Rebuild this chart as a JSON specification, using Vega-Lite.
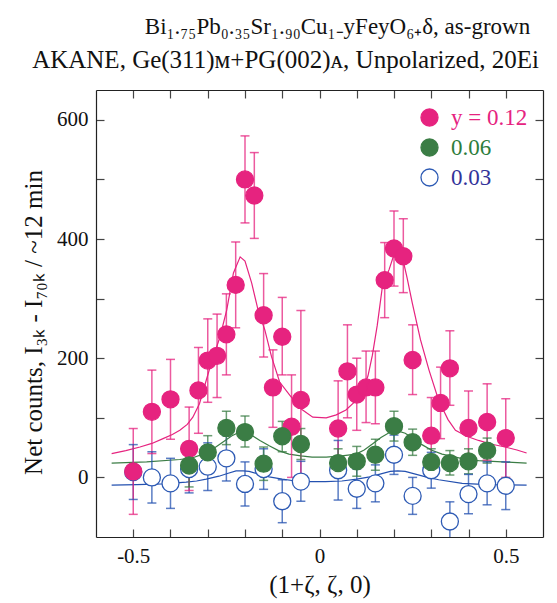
{
  "$schema": "https://vega.github.io/schema/vega-lite/v6.json",
  "width": 447,
  "height": 447,
  "autosize": "none",
  "padding": {"left": 96, "top": 90, "right": 14, "bottom": 66},
  "background": "white",
  "config": {
    "font": "Liberation Serif",
    "view": {"stroke": null},
    "axis": {
      "domainColor": "#222222",
      "domainWidth": 1.2,
      "tickColor": "#444444",
      "tickWidth": 1.2,
      "tickSize": -8,
      "grid": false,
      "labelFont": "Liberation Serif",
      "labelFontSize": 21,
      "labelColor": "#111111",
      "titleFont": "Liberation Serif",
      "titleFontSize": 24,
      "titleFontWeight": "normal",
      "titleColor": "#111111"
    },
    "legend": {
      "labelFont": "Liberation Serif",
      "labelFontSize": 23
    }
  },
  "title": {
    "text": "Bi₁.₇₅Pb₀.₃₅Sr₁.₉₀Cu₁₋yFeyO₆₊δ, as-grown",
    "font": "Liberation Serif",
    "fontSize": 23,
    "fontWeight": "normal",
    "anchor": "middle",
    "frame": "group",
    "dx": 18,
    "offset": 8,
    "color": "#111111"
  },
  "datasets": {
    "pts": [
      {"s": "0.03", "x": -0.5, "y": 9, "lo": -37, "hi": 55},
      {"s": "0.03", "x": -0.45, "y": 0, "lo": -43, "hi": 43},
      {"s": "0.03", "x": -0.4, "y": -10, "lo": -52, "hi": 32},
      {"s": "0.03", "x": -0.35, "y": 14, "lo": -26, "hi": 54},
      {"s": "0.03", "x": -0.3, "y": 18, "lo": -22, "hi": 58},
      {"s": "0.03", "x": -0.25, "y": 32, "lo": -6, "hi": 70},
      {"s": "0.03", "x": -0.2, "y": -11, "lo": -48, "hi": 26},
      {"s": "0.03", "x": -0.15, "y": 14, "lo": -20, "hi": 48},
      {"s": "0.03", "x": -0.1, "y": -40, "lo": -76, "hi": -4},
      {"s": "0.03", "x": -0.05, "y": -7, "lo": -40, "hi": 27},
      {"s": "0.03", "x": 0.05, "y": 12, "lo": -38, "hi": 62},
      {"s": "0.03", "x": 0.1, "y": -19, "lo": -52, "hi": 14},
      {"s": "0.03", "x": 0.15, "y": -10, "lo": -41, "hi": 21},
      {"s": "0.03", "x": 0.2, "y": 38, "lo": 5, "hi": 71},
      {"s": "0.03", "x": 0.25, "y": -31, "lo": -62, "hi": 0},
      {"s": "0.03", "x": 0.3, "y": 12, "lo": -18, "hi": 42},
      {"s": "0.03", "x": 0.35, "y": -74, "lo": -107, "hi": -41},
      {"s": "0.03", "x": 0.4, "y": -28, "lo": -61, "hi": 5},
      {"s": "0.03", "x": 0.45, "y": -10, "lo": -46, "hi": 26},
      {"s": "0.03", "x": 0.5, "y": -14, "lo": -54, "hi": 26},
      {"s": "y = 0.12", "x": -0.5, "y": 10, "lo": -62, "hi": 82},
      {"s": "y = 0.12", "x": -0.45, "y": 110, "lo": 40, "hi": 180},
      {"s": "y = 0.12", "x": -0.4, "y": 131, "lo": 64, "hi": 198},
      {"s": "y = 0.12", "x": -0.35, "y": 48, "lo": -22, "hi": 118},
      {"s": "y = 0.12", "x": -0.325, "y": 146, "lo": 74, "hi": 218},
      {"s": "y = 0.12", "x": -0.3, "y": 196, "lo": 126, "hi": 266},
      {"s": "y = 0.12", "x": -0.275, "y": 204, "lo": 134, "hi": 274},
      {"s": "y = 0.12", "x": -0.25, "y": 240, "lo": 172, "hi": 308},
      {"s": "y = 0.12", "x": -0.225, "y": 323, "lo": 251, "hi": 395},
      {"s": "y = 0.12", "x": -0.2, "y": 500, "lo": 427, "hi": 573},
      {"s": "y = 0.12", "x": -0.175, "y": 473, "lo": 401, "hi": 545},
      {"s": "y = 0.12", "x": -0.15, "y": 272, "lo": 202, "hi": 342},
      {"s": "y = 0.12", "x": -0.125, "y": 151, "lo": 84, "hi": 214},
      {"s": "y = 0.12", "x": -0.1, "y": 236, "lo": 172, "hi": 302},
      {"s": "y = 0.12", "x": -0.075, "y": 85, "lo": 0, "hi": 172},
      {"s": "y = 0.12", "x": -0.05, "y": 130, "lo": 2, "hi": 280},
      {"s": "y = 0.12", "x": 0.05, "y": 82, "lo": 2, "hi": 162},
      {"s": "y = 0.12", "x": 0.075, "y": 178, "lo": 100, "hi": 256},
      {"s": "y = 0.12", "x": 0.1, "y": 139, "lo": 79, "hi": 200},
      {"s": "y = 0.12", "x": 0.125, "y": 151, "lo": 92, "hi": 212},
      {"s": "y = 0.12", "x": 0.15, "y": 151, "lo": 90, "hi": 212},
      {"s": "y = 0.12", "x": 0.175, "y": 331, "lo": 268, "hi": 394},
      {"s": "y = 0.12", "x": 0.2, "y": 384, "lo": 321, "hi": 447},
      {"s": "y = 0.12", "x": 0.225, "y": 371, "lo": 310, "hi": 434},
      {"s": "y = 0.12", "x": 0.25, "y": 197, "lo": 139, "hi": 256},
      {"s": "y = 0.12", "x": 0.3, "y": 70, "lo": 5, "hi": 134},
      {"s": "y = 0.12", "x": 0.325, "y": 125, "lo": 65, "hi": 185},
      {"s": "y = 0.12", "x": 0.35, "y": 183, "lo": 121, "hi": 246},
      {"s": "y = 0.12", "x": 0.4, "y": 83, "lo": 21, "hi": 145},
      {"s": "y = 0.12", "x": 0.45, "y": 93, "lo": 29, "hi": 157},
      {"s": "y = 0.12", "x": 0.5, "y": 66, "lo": 0, "hi": 132},
      {"s": "0.06", "x": -0.35, "y": 20, "lo": -16, "hi": 56},
      {"s": "0.06", "x": -0.3, "y": 42, "lo": 14, "hi": 70},
      {"s": "0.06", "x": -0.25, "y": 83, "lo": 55, "hi": 111},
      {"s": "0.06", "x": -0.2, "y": 76, "lo": 51, "hi": 103},
      {"s": "0.06", "x": -0.15, "y": 23, "lo": -5, "hi": 51},
      {"s": "0.06", "x": -0.1, "y": 69, "lo": 43, "hi": 94},
      {"s": "0.06", "x": -0.05, "y": 56, "lo": 30, "hi": 82},
      {"s": "0.06", "x": 0.05, "y": 24, "lo": 0, "hi": 48},
      {"s": "0.06", "x": 0.1, "y": 27, "lo": 2, "hi": 52},
      {"s": "0.06", "x": 0.15, "y": 38, "lo": 12, "hi": 64},
      {"s": "0.06", "x": 0.2, "y": 86, "lo": 61, "hi": 111},
      {"s": "0.06", "x": 0.25, "y": 59, "lo": 37, "hi": 81},
      {"s": "0.06", "x": 0.3, "y": 26, "lo": 4, "hi": 48},
      {"s": "0.06", "x": 0.35, "y": 24, "lo": 4, "hi": 45},
      {"s": "0.06", "x": 0.4, "y": 27, "lo": 6, "hi": 48},
      {"s": "0.06", "x": 0.45, "y": 45, "lo": 24, "hi": 66}
    ],
    "fit": [
      {"s": "y = 0.12", "x": -0.558, "y": 40},
      {"s": "y = 0.12", "x": -0.52, "y": 45},
      {"s": "y = 0.12", "x": -0.482, "y": 51},
      {"s": "y = 0.12", "x": -0.45, "y": 57},
      {"s": "y = 0.12", "x": -0.42, "y": 65},
      {"s": "y = 0.12", "x": -0.395, "y": 72},
      {"s": "y = 0.12", "x": -0.375, "y": 79},
      {"s": "y = 0.12", "x": -0.355, "y": 89},
      {"s": "y = 0.12", "x": -0.34, "y": 101},
      {"s": "y = 0.12", "x": -0.322, "y": 124},
      {"s": "y = 0.12", "x": -0.304, "y": 163},
      {"s": "y = 0.12", "x": -0.291, "y": 191},
      {"s": "y = 0.12", "x": -0.267, "y": 236},
      {"s": "y = 0.12", "x": -0.249, "y": 281},
      {"s": "y = 0.12", "x": -0.231, "y": 343},
      {"s": "y = 0.12", "x": -0.213, "y": 370},
      {"s": "y = 0.12", "x": -0.2, "y": 363},
      {"s": "y = 0.12", "x": -0.182, "y": 326},
      {"s": "y = 0.12", "x": -0.165, "y": 281},
      {"s": "y = 0.12", "x": -0.147, "y": 248},
      {"s": "y = 0.12", "x": -0.129, "y": 203},
      {"s": "y = 0.12", "x": -0.107, "y": 160},
      {"s": "y = 0.12", "x": -0.08, "y": 138},
      {"s": "y = 0.12", "x": -0.05, "y": 115},
      {"s": "y = 0.12", "x": -0.018, "y": 101},
      {"s": "y = 0.12", "x": 0.018, "y": 100},
      {"s": "y = 0.12", "x": 0.045, "y": 105},
      {"s": "y = 0.12", "x": 0.071, "y": 113},
      {"s": "y = 0.12", "x": 0.095, "y": 127},
      {"s": "y = 0.12", "x": 0.116, "y": 146},
      {"s": "y = 0.12", "x": 0.13, "y": 170},
      {"s": "y = 0.12", "x": 0.142, "y": 205},
      {"s": "y = 0.12", "x": 0.155, "y": 255},
      {"s": "y = 0.12", "x": 0.169, "y": 321},
      {"s": "y = 0.12", "x": 0.187, "y": 349},
      {"s": "y = 0.12", "x": 0.2, "y": 374},
      {"s": "y = 0.12", "x": 0.222, "y": 371},
      {"s": "y = 0.12", "x": 0.235, "y": 335},
      {"s": "y = 0.12", "x": 0.249, "y": 293},
      {"s": "y = 0.12", "x": 0.271, "y": 231},
      {"s": "y = 0.12", "x": 0.294, "y": 180},
      {"s": "y = 0.12", "x": 0.32, "y": 129},
      {"s": "y = 0.12", "x": 0.345, "y": 97},
      {"s": "y = 0.12", "x": 0.365, "y": 79},
      {"s": "y = 0.12", "x": 0.395, "y": 69},
      {"s": "y = 0.12", "x": 0.427, "y": 62},
      {"s": "y = 0.12", "x": 0.46, "y": 56},
      {"s": "y = 0.12", "x": 0.498, "y": 51},
      {"s": "y = 0.12", "x": 0.53, "y": 46},
      {"s": "y = 0.12", "x": 0.556, "y": 41},
      {"s": "0.06", "x": -0.558, "y": 24},
      {"s": "0.06", "x": -0.464, "y": 26},
      {"s": "0.06", "x": -0.375, "y": 30},
      {"s": "0.06", "x": -0.34, "y": 33},
      {"s": "0.06", "x": -0.313, "y": 39},
      {"s": "0.06", "x": -0.285, "y": 48},
      {"s": "0.06", "x": -0.26, "y": 59},
      {"s": "0.06", "x": -0.235, "y": 70},
      {"s": "0.06", "x": -0.215, "y": 76},
      {"s": "0.06", "x": -0.2, "y": 75},
      {"s": "0.06", "x": -0.18, "y": 70},
      {"s": "0.06", "x": -0.16, "y": 62},
      {"s": "0.06", "x": -0.135, "y": 53},
      {"s": "0.06", "x": -0.11, "y": 45},
      {"s": "0.06", "x": -0.082, "y": 39},
      {"s": "0.06", "x": -0.05, "y": 36},
      {"s": "0.06", "x": -0.02, "y": 34},
      {"s": "0.06", "x": 0.018, "y": 34},
      {"s": "0.06", "x": 0.06, "y": 36},
      {"s": "0.06", "x": 0.098, "y": 39},
      {"s": "0.06", "x": 0.12, "y": 46},
      {"s": "0.06", "x": 0.142, "y": 56},
      {"s": "0.06", "x": 0.165, "y": 67},
      {"s": "0.06", "x": 0.19, "y": 76},
      {"s": "0.06", "x": 0.21, "y": 78},
      {"s": "0.06", "x": 0.23, "y": 74},
      {"s": "0.06", "x": 0.25, "y": 66},
      {"s": "0.06", "x": 0.275, "y": 55},
      {"s": "0.06", "x": 0.3, "y": 46},
      {"s": "0.06", "x": 0.329, "y": 39},
      {"s": "0.06", "x": 0.38, "y": 32},
      {"s": "0.06", "x": 0.427, "y": 28},
      {"s": "0.06", "x": 0.49, "y": 26},
      {"s": "0.06", "x": 0.556, "y": 24},
      {"s": "0.03", "x": -0.558, "y": -13},
      {"s": "0.03", "x": -0.49, "y": -12},
      {"s": "0.03", "x": -0.42, "y": -11},
      {"s": "0.03", "x": -0.358, "y": -8},
      {"s": "0.03", "x": -0.33, "y": -6},
      {"s": "0.03", "x": -0.304, "y": -3},
      {"s": "0.03", "x": -0.27, "y": 2},
      {"s": "0.03", "x": -0.245, "y": 7},
      {"s": "0.03", "x": -0.224, "y": 11},
      {"s": "0.03", "x": -0.205, "y": 11},
      {"s": "0.03", "x": -0.189, "y": 10},
      {"s": "0.03", "x": -0.165, "y": 6},
      {"s": "0.03", "x": -0.135, "y": 1},
      {"s": "0.03", "x": -0.1, "y": -3},
      {"s": "0.03", "x": -0.064, "y": -6},
      {"s": "0.03", "x": -0.03, "y": -7},
      {"s": "0.03", "x": 0.016, "y": -7},
      {"s": "0.03", "x": 0.06, "y": -6},
      {"s": "0.03", "x": 0.1, "y": -3},
      {"s": "0.03", "x": 0.135, "y": 1},
      {"s": "0.03", "x": 0.165, "y": 6},
      {"s": "0.03", "x": 0.19, "y": 10},
      {"s": "0.03", "x": 0.21, "y": 11},
      {"s": "0.03", "x": 0.23, "y": 10},
      {"s": "0.03", "x": 0.26, "y": 5},
      {"s": "0.03", "x": 0.29, "y": 0},
      {"s": "0.03", "x": 0.32, "y": -4},
      {"s": "0.03", "x": 0.383, "y": -10},
      {"s": "0.03", "x": 0.45, "y": -12},
      {"s": "0.03", "x": 0.556, "y": -13}
    ]
  },
  "resolve": {"axis": {"x": "independent", "y": "independent"}},
  "layer": [
    {
      "data": {"name": "fit"},
      "mark": {"type": "line", "strokeWidth": 1.2, "clip": true},
      "encoding": {
        "x": {
          "field": "x", "type": "quantitative",
          "scale": {"domain": [-0.6, 0.6], "nice": false, "zero": false},
          "axis": {
            "orient": "bottom",
            "values": [-0.5, -0.4, -0.3, -0.2, -0.1, 0, 0.1, 0.2, 0.3, 0.4, 0.5],
            "labelExpr": "datum.value == -0.5 ? '-0.5' : datum.value == 0 ? '0' : datum.value == 0.5 ? '0.5' : ''",
            "labelPadding": 16,
            "title": "(1+ζ, ζ, 0)",
            "titleFontSize": 25,
            "titlePadding": 6
          }
        },
        "y": {
          "field": "y", "type": "quantitative",
          "scale": {"domain": [-100, 650], "nice": false, "zero": false},
          "axis": {
            "orient": "left",
            "values": [0, 100, 200, 300, 400, 500, 600],
            "labelExpr": "datum.value % 200 == 0 ? '' + datum.value : ''",
            "labelPadding": 16,
            "title": "Net counts, I₃ₖ - I₇₀ₖ / ~12 min",
            "titleFontSize": 25,
            "titlePadding": 10,
            "titleY": 232
          }
        },
        "color": {
          "field": "s", "type": "nominal",
          "scale": {"domain": ["0.03", "0.06", "y = 0.12"], "range": ["#2451B0", "#3B7D45", "#E6237F"]},
          "legend": null
        }
      }
    },
    {
      "data": {"name": "pts"},
      "mark": {"type": "rule", "strokeWidth": 1.5, "opacity": 0.75, "clip": true},
      "encoding": {
        "x": {
          "field": "x", "type": "quantitative",
          "axis": {
            "orient": "top",
            "values": [-0.5, -0.4, -0.3, -0.2, -0.1, 0, 0.1, 0.2, 0.3, 0.4, 0.5],
            "labels": false,
            "title": "AKANE, Ge(311)ᴍ+PG(002)ᴀ, Unpolarized, 20Ei",
            "titleFontSize": 25,
            "titleX": 189,
            "titleAnchor": "middle",
            "titlePadding": 17
          }
        },
        "y": {
          "field": "lo", "type": "quantitative",
          "axis": {"orient": "right", "values": [0, 100, 200, 300, 400, 500, 600], "labels": false, "title": null}
        },
        "y2": {"field": "hi"},
        "color": {"field": "s", "type": "nominal", "legend": null}
      }
    },
    {
      "data": {"name": "pts"},
      "mark": {"type": "tick", "orient": "horizontal", "size": 9, "thickness": 1.5, "opacity": 0.75, "clip": true},
      "encoding": {
        "x": {"field": "x", "type": "quantitative", "axis": null},
        "y": {"field": "lo", "type": "quantitative", "axis": null},
        "color": {"field": "s", "type": "nominal", "legend": null}
      }
    },
    {
      "data": {"name": "pts"},
      "mark": {"type": "tick", "orient": "horizontal", "size": 9, "thickness": 1.5, "opacity": 0.75, "clip": true},
      "encoding": {
        "x": {"field": "x", "type": "quantitative", "axis": null},
        "y": {"field": "hi", "type": "quantitative", "axis": null},
        "color": {"field": "s", "type": "nominal", "legend": null}
      }
    },
    {
      "data": {"name": "pts"},
      "mark": {"type": "point", "shape": "circle", "size": 290, "strokeWidth": 1.3, "opacity": 1, "clip": true},
      "encoding": {
        "x": {"field": "x", "type": "quantitative", "axis": null},
        "y": {"field": "y", "type": "quantitative", "axis": null},
        "fill": {
          "field": "s", "type": "nominal",
          "scale": {"domain": ["y = 0.12", "0.06", "0.03"], "range": ["#E6237F", "#3B7D45", "#FFFFFF"]},
          "legend": {
            "title": null,
            "orient": "none",
            "legendX": 322,
            "legendY": 16,
            "padding": 0,
            "symbolType": "circle",
            "symbolSize": 290,
            "symbolStrokeWidth": 1.3,
            "labelFont": "Liberation Serif",
            "labelFontSize": 23,
            "labelOffset": 10,
            "rowPadding": 6,
            "labelColor": {"expr": "datum.value === 'y = 0.12' ? '#E6237F' : datum.value === '0.06' ? '#2E7D3C' : '#33339A'"}
          }
        },
        "stroke": {
          "field": "s", "type": "nominal",
          "scale": {"domain": ["y = 0.12", "0.06", "0.03"], "range": ["#E6237F", "#3B7D45", "#2D5AB4"]},
          "legend": {
            "title": null,
            "orient": "none",
            "legendX": 322,
            "legendY": 16,
            "padding": 0,
            "symbolType": "circle",
            "symbolSize": 290,
            "symbolStrokeWidth": 1.3,
            "labelFont": "Liberation Serif",
            "labelFontSize": 23,
            "labelOffset": 10,
            "rowPadding": 6,
            "labelColor": {"expr": "datum.value === 'y = 0.12' ? '#E6237F' : datum.value === '0.06' ? '#2E7D3C' : '#33339A'"}
          }
        }
      }
    }
  ]
}
